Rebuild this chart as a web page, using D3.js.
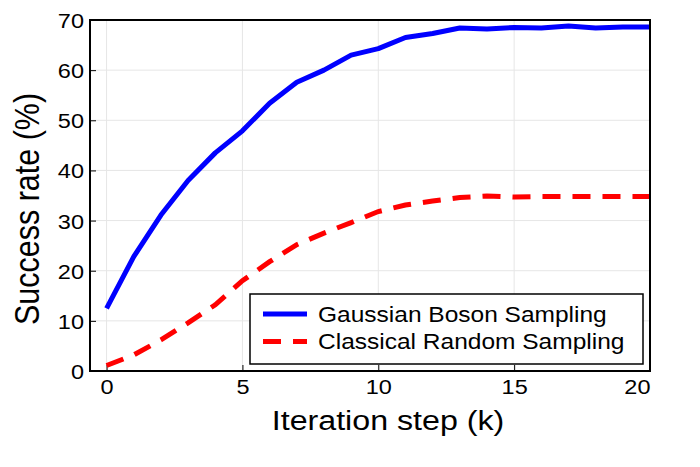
<!DOCTYPE html>
<html>
<head>
<meta charset="utf-8">
<script src="https://cdn.jsdelivr.net/npm/d3@7"></script>
<style>
  body { margin: 0; background: #fff; }
  text { font-family: "Liberation Sans", Arial, sans-serif; }
</style>
</head>
<body>
<div id="chart"></div>
<script>
const steps = d3.range(0, 21);
const gbs = [12.5, 22.8, 31.1, 38.0, 43.5, 47.9, 53.4, 57.6, 60.0, 63.0, 64.3,
             66.5, 67.3, 68.4, 68.2, 68.5, 68.4, 68.8, 68.4, 68.6, 68.6];
const crs = [1.1, 3.2, 6.2, 9.6, 13.2, 18.0, 21.8, 25.2, 27.5, 29.6, 31.8,
             33.1, 33.9, 34.6, 34.9, 34.7, 34.8, 34.8, 34.8, 34.8, 34.8];
const xTicks = [0, 5, 10, 15, 20];
const yTicks = [0, 10, 20, 30, 40, 50, 60, 70];
const seriesNames = ["Gaussian Boson Sampling", "Classical Random Sampling"];

const W = 700, H = 467;
const margin = { top: 20, right: 50, bottom: 96, left: 90 };
const width = W - margin.left - margin.right;
const height = H - margin.top - margin.bottom;
const stretch = 1.12; // reference text is a bit wider than Arial

const svg = d3.select("#chart").append("svg")
    .attr("width", W)
    .attr("height", H);

const g = svg.append("g")
    .attr("transform", `translate(${margin.left},${margin.top})`);

const x = d3.scaleLinear().domain([-0.61, 20]).range([0, width]);
const y = d3.scaleLinear().domain([0, 70]).range([height, 0]);

// grid
g.selectAll(".vgrid").data(xTicks).enter().append("line")
    .attr("x1", d => x(d)).attr("x2", d => x(d))
    .attr("y1", 0).attr("y2", height)
    .attr("stroke", "#e6e6e6").attr("stroke-width", 1);
g.selectAll(".hgrid").data(yTicks).enter().append("line")
    .attr("x1", 0).attr("x2", width)
    .attr("y1", d => y(d)).attr("y2", d => y(d))
    .attr("stroke", "#e6e6e6").attr("stroke-width", 1);

// axes with inward ticks
const xAxis = g.append("g")
    .attr("transform", `translate(0,${height})`)
    .call(d3.axisBottom(x).tickValues(xTicks).tickSizeInner(-6).tickSizeOuter(0).tickPadding(8));
const yAxis = g.append("g")
    .call(d3.axisLeft(y).tickValues(yTicks).tickSizeInner(-6).tickSizeOuter(0).tickPadding(6));

[xAxis, yAxis].forEach(a => {
    a.select(".domain").remove();
    a.selectAll(".tick line").attr("stroke", "#000").attr("stroke-width", 1);
    a.selectAll(".tick text")
        .attr("fill", "#000")
        .style("font-size", "21px")
        .style("font-family", "'Liberation Sans', Arial, sans-serif")
        .attr("transform", `scale(${stretch},1)`);
});
xAxis.selectAll(".tick text").filter(d => d === 20)
    .attr("text-anchor", "end").attr("x", 0);
yAxis.selectAll(".tick text").attr("x", -6 / stretch).attr("dy", "0.36em");

// lines
const line = d3.line().x((d, i) => x(steps[i])).y(d => y(d));

g.append("path").datum(crs)
    .attr("d", line)
    .attr("fill", "none")
    .attr("stroke", "#ff0000")
    .attr("stroke-width", 5)
    .attr("stroke-dasharray", "18,12");

g.append("path").datum(gbs)
    .attr("d", line)
    .attr("fill", "none")
    .attr("stroke", "#0000ff")
    .attr("stroke-width", 5)
    .attr("stroke-linejoin", "round");

// frame
g.append("rect")
    .attr("width", width).attr("height", height)
    .attr("fill", "none")
    .attr("stroke", "#000")
    .attr("stroke-width", 2);

// legend
const lg = g.append("g")
    .attr("transform", `translate(${250 - margin.left},${294 - margin.top})`);
lg.append("rect")
    .attr("width", 393).attr("height", 70)
    .attr("fill", "#fff")
    .attr("stroke", "#000")
    .attr("stroke-width", 1.5);
const colors = ["#0000ff", "#ff0000"];
const dashes = [null, "18,12"];
seriesNames.forEach((name, i) => {
    const yy = 20 + i * 27.5;
    lg.append("line")
        .attr("x1", 13).attr("x2", 57)
        .attr("y1", yy).attr("y2", yy)
        .attr("stroke", colors[i])
        .attr("stroke-width", 5)
        .attr("stroke-dasharray", dashes[i]);
    lg.append("text")
        .attr("transform", `translate(68,${yy}) scale(${stretch + 0.02},1)`)
        .attr("dy", "0.36em")
        .style("font-size", "21.5px")
        .text(name);
});

// axis titles
svg.append("text")
    .attr("transform", `translate(388,430) scale(${stretch + 0.03},1)`)
    .attr("text-anchor", "middle")
    .style("font-size", "28px")
    .text("Iteration step (k)");

svg.append("text")
    .attr("transform", `translate(39,209) scale(${stretch},1) rotate(-90)`)
    .attr("text-anchor", "middle")
    .style("font-size", "30.5px")
    .text("Success rate (%)");
</script>
</body>
</html>
